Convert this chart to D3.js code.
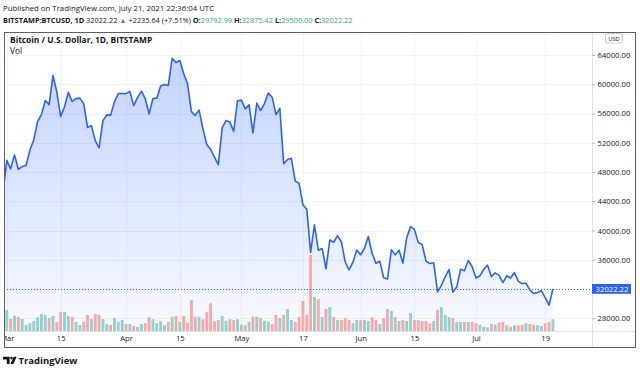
<!DOCTYPE html>
<html>
<head>
<meta charset="utf-8">
<script src="https://cdn.jsdelivr.net/npm/d3@7"></script>
<style>
  html, body { margin: 0; padding: 0; background: #fff; }
  svg { display: block; font-family: "Open Sans", sans-serif; }
</style>
</head>
<body>
<div id="chart"></div>
<script>
// daily closes, Feb 28 .. Jul 21 2021 (BITSTAMP:BTCUSD, 1D)
const startDay = "2021-02-28";
const prevClose = 46276;
const closes = [
  45137,
  49587, 48440, 50349, 48374, 48751, 48882, 50971, 52375, 54884, 55851,
  57773, 57221, 61188, 58968, 55605, 56900, 58912, 57648, 58030, 58102,
  57352, 54083, 54341, 52303, 51293, 55026, 55818, 55776, 57627, 58730, 58736,
  58720, 59031, 57082, 58206, 59054, 58020, 55947, 58048, 58102, 59774,
  59964, 59834, 63554, 62969, 63252, 61455, 60087, 56251, 55724, 56473,
  53906, 51762, 51093, 50050, 49004, 54021, 55033, 54824, 53555, 57750,
  57828, 56631, 57200, 53333, 57424, 56397, 57356, 58803, 58232, 55859,
  56704, 49150, 49716, 49880, 46760, 46456, 43538, 42909, 37002, 40782,
  37304, 37536, 34770, 38705, 38402, 39294, 38437, 35698, 34616, 35678, 37332,
  36684, 37575, 39188, 36856, 35520, 35797, 33552, 33380, 37388, 36675,
  37313, 35551, 39020, 40533, 40144, 38350, 38092, 35820, 35484, 35600,
  31608, 32509, 33678, 34663, 31584, 32283, 34700, 34494, 35911, 35045,
  33504, 33801, 34669, 35287, 33690, 34220, 33862, 32875, 33815, 33502,
  34259, 33086, 32729, 32820, 31880, 31383, 31520, 31778, 30839, 29790, 32022.22
];
// volume, thousands of BTC
const volumes = [
  6.5,
  8.4, 4.8, 6.0, 5.6, 4.8, 2.4, 3.1, 4.0, 5.5, 6.8,
  6.4, 5.2, 6.0, 3.6, 7.6, 7.6, 6.0, 5.6, 3.6, 2.4,
  3.6, 6.4, 4.8, 6.8, 6.4, 4.8, 2.8, 2.4, 5.2, 3.6, 4.4,
  2.8, 2.8, 2.0, 1.7, 2.8, 3.1, 5.5, 4.7, 3.1, 3.9,
  2.3, 3.6, 5.7, 6.0, 3.6, 6.0, 3.3, 12.4, 5.7, 5.7,
  4.7, 7.6, 11.1, 3.9, 4.4, 6.0, 4.1, 4.7, 4.4, 4.7,
  2.5, 2.3, 3.6, 5.7, 5.7, 5.2, 4.1, 3.6, 2.8, 6.5,
  5.2, 6.4, 8.8, 4.4, 3.6, 5.6, 12.0, 6.4, 30.4, 13.6,
  12.8, 5.6, 8.8, 9.6, 5.6, 4.4, 4.4, 5.1, 4.4, 3.1, 4.4,
  4.4, 4.4, 4.0, 5.5, 4.4, 2.8, 5.1, 8.8, 8.0, 5.6,
  4.0, 4.4, 4.0, 7.2, 4.4, 4.4, 4.0, 4.0, 3.1, 4.0,
  8.4, 9.6, 6.4, 5.6, 5.2, 3.6, 3.6, 3.6, 3.6, 3.6,
  3.1, 2.5, 1.7, 1.5, 2.8, 2.5, 3.3, 3.6, 2.3, 1.7,
  2.3, 2.3, 2.5, 3.1, 2.8, 2.5, 2.3, 2.0, 3.1, 3.6, 4.7
];
const priceTicks = [28000, 32000, 36000, 40000, 44000, 48000, 52000, 56000, 60000, 64000];
const timeTicks = ["2021-03-01", "2021-03-15", "2021-04-01", "2021-04-15", "2021-05-01",
                   "2021-05-17", "2021-06-01", "2021-06-15", "2021-07-01", "2021-07-19"];
const timeLabels = ["Mar", "15", "Apr", "15", "May", "17", "Jun", "15", "Jul", "19"];
const lastPrice = 32022.22;
const change = [2235.64, 7.51];
const ohlcLabels = ["O:", "H:", "L:", "C:"];
const ohlcValues = [29792.99, 32875.42, 29500.00, 32022.22];

const W = 640, H = 372;
const fL = 4, fR = 636, fT = 32, fB = 348;
const paneR = 592, paneB = 331;
const blue = "#2962ff", teal = "#26a69a", ink = "#131722";

const parse = d3.utcParse("%Y-%m-%d");
const t0 = parse(startDay);
const data = closes.map((c, i) => ({
    date: d3.utcDay.offset(t0, i),
    close: c,
    vol: volumes[i],
    up: c >= (i ? closes[i - 1] : prevClose)
}));

const svg = d3.select("#chart").append("svg")
    .attr("width", W)
    .attr("height", H);

const x = d3.scaleUtc()
    .domain([parse("2021-03-01"), parse("2021-07-19")])
    .range([6.8, 545.2]);
const y = d3.scaleLinear()
    .domain([28000, 64000])
    .range([318.3, 55]);
const yVol = d3.scaleLinear()
    .domain([0, 40])
    .range([paneB, paneB - 100]);

const defs = svg.append("defs");
defs.append("clipPath").attr("id", "pane")
    .append("rect").attr("x", fL + 0.5).attr("y", fT).attr("width", paneR - fL - 0.5).attr("height", paneB - fT);
defs.append("clipPath").attr("id", "taxis")
    .append("rect").attr("x", fL + 1).attr("y", paneB).attr("width", paneR - fL - 1).attr("height", fB - paneB);
const grad = defs.append("linearGradient").attr("id", "fill")
    .attr("gradientUnits", "userSpaceOnUse")
    .attr("x1", 0).attr("x2", 0).attr("y1", 55).attr("y2", paneB);
grad.append("stop").attr("offset", 0).attr("stop-color", blue).attr("stop-opacity", 0.28);
grad.append("stop").attr("offset", 1).attr("stop-color", blue).attr("stop-opacity", 0.03);

// header
svg.append("text")
    .attr("x", 3).attr("y", 10.5)
    .attr("font-size", 7.8).attr("fill", ink)
    .text("Published on TradingView.com, July 21, 2021 22:36:04 UTC");

const head = svg.append("text")
    .attr("x", 3).attr("y", 22.5)
    .attr("font-size", 7.35).attr("fill", ink);
head.append("tspan").attr("font-weight", "bold").text("BITSTAMP:BTCUSD, 1D");
head.append("tspan").text(" " + d3.format(".2f")(lastPrice) + " ");
head.append("tspan").attr("fill", teal).text("▲");
head.append("tspan").text(` +${change[0]} (+${change[1]}%) `);
ohlcLabels.forEach((l, i) => {
    head.append("tspan").attr("font-weight", "bold").text((i ? " " : "") + l);
    head.append("tspan").attr("fill", teal).text(d3.format(".2f")(ohlcValues[i]));
});

// grid
const pane = svg.append("g").attr("clip-path", "url(#pane)");
pane.selectAll(".vgrid")
    .data(timeTicks.map(parse))
    .enter().append("line")
    .attr("x1", d => Math.round(x(d)) + 0.5).attr("x2", d => Math.round(x(d)) + 0.5)
    .attr("y1", fT).attr("y2", paneB)
    .attr("stroke", "#f0f3fa");
pane.selectAll(".hgrid")
    .data(priceTicks)
    .enter().append("line")
    .attr("x1", fL).attr("x2", paneR)
    .attr("y1", d => Math.round(y(d)) + 0.5).attr("y2", d => Math.round(y(d)) + 0.5)
    .attr("stroke", "#f0f3fa");

// area + line
pane.append("path")
    .datum(data)
    .attr("fill", "url(#fill)")
    .attr("d", d3.area().x(d => x(d.date)).y0(paneB).y1(d => y(d.close)));

// volume
pane.selectAll(".vol")
    .data(data)
    .enter().append("rect")
    .attr("x", d => x(d.date) - 1.45)
    .attr("width", 2.9)
    .attr("y", d => yVol(d.vol))
    .attr("height", d => paneB - yVol(d.vol))
    .attr("fill", d => d.up ? "#92d2cc" : "#f7a9a7");

pane.append("path")
    .datum(data)
    .attr("fill", "none")
    .attr("stroke", blue)
    .attr("stroke-width", 1.6)
    .attr("stroke-linejoin", "round")
    .attr("d", d3.line().x(d => x(d.date)).y(d => y(d.close)));

// last price line
svg.append("line")
    .attr("x1", fL).attr("x2", paneR)
    .attr("y1", Math.round(y(lastPrice)) + 0.5).attr("y2", Math.round(y(lastPrice)) + 0.5)
    .attr("stroke", blue)
    .attr("stroke-dasharray", "1,2");

// legend inside pane
svg.append("text")
    .attr("x", 10).attr("y", 43)
    .attr("font-size", 8.4).attr("font-weight", "bold").attr("fill", ink)
    .text("Bitcoin / U.S. Dollar, 1D, BITSTAMP");
svg.append("text")
    .attr("x", 10).attr("y", 54)
    .attr("font-size", 8.4).attr("fill", ink)
    .text("Vol");

// separators + frame
svg.append("line")
    .attr("x1", paneR + 0.5).attr("x2", paneR + 0.5)
    .attr("y1", fT).attr("y2", fB)
    .attr("stroke", "#e0e3eb");
svg.append("line")
    .attr("x1", fL).attr("x2", fR)
    .attr("y1", paneB + 0.5).attr("y2", paneB + 0.5)
    .attr("stroke", "#e0e3eb");

// price axis
const yAxis = svg.append("g")
    .attr("transform", `translate(${paneR},0)`)
    .call(d3.axisRight(y)
        .tickValues(priceTicks.filter(v => Math.abs(y(v) - y(lastPrice)) > 10))
        .tickFormat(d3.format(".2f"))
        .tickSize(3)
        .tickPadding(2.5));
yAxis.select(".domain").remove();
yAxis.selectAll(".tick line").attr("stroke", "#b2b5be");
yAxis.selectAll("text")
    .attr("font-family", "Open Sans")
    .attr("font-size", 7.7)
    .attr("fill", ink);

// last price label
svg.append("rect")
    .attr("x", paneR).attr("y", y(lastPrice) - 4.9)
    .attr("width", 39).attr("height", 9.8)
    .attr("fill", blue);
svg.append("text")
    .attr("x", paneR + 20).attr("y", y(lastPrice) + 2.7)
    .attr("text-anchor", "middle")
    .attr("font-size", 7.7).attr("fill", "#fff")
    .text(d3.format(".2f")(lastPrice));

// USD badge
svg.append("rect")
    .attr("x", 605.5).attr("y", 33.5)
    .attr("width", 17).attr("height", 9.5)
    .attr("rx", 2)
    .attr("fill", "#fff")
    .attr("stroke", "#c8cbd3");
svg.append("text")
    .attr("x", 614).attr("y", 40.6)
    .attr("text-anchor", "middle")
    .attr("font-size", 5.8).attr("fill", ink)
    .text("USD");

// time axis
const xAxis = svg.append("g")
    .attr("clip-path", "url(#taxis)")
    .append("g")
    .attr("transform", `translate(0,${paneB})`)
    .call(d3.axisBottom(x)
        .tickValues(timeTicks.map(parse))
        .tickFormat((d, i) => timeLabels[i])
        .tickSize(0)
        .tickPadding(5));
xAxis.select(".domain").remove();
xAxis.selectAll("text")
    .attr("font-family", "Open Sans")
    .attr("font-size", 7.6)
    .attr("fill", ink);

svg.append("rect")
    .attr("x", fL + 0.5).attr("y", fT + 0.5)
    .attr("width", fR - fL - 1).attr("height", fB - fT - 1)
    .attr("fill", "none")
    .attr("stroke", "#5d606b");

// footer logo
const logo = svg.append("g").attr("fill", ink);
logo.append("path").attr("d", "M3,356.8 H9.6 V364 H6.8 V359.4 H3 Z");
logo.append("circle").attr("cx", 11.4).attr("cy", 358.1).attr("r", 1.3);
logo.append("path").attr("d", "M13.6,356.8 H16.6 L13.4,364 H10.4 Z");
svg.append("text")
    .attr("x", 18.5).attr("y", 364)
    .attr("font-size", 9.5).attr("font-weight", "bold").attr("fill", ink)
    .text("TradingView");
</script>
</body>
</html>
